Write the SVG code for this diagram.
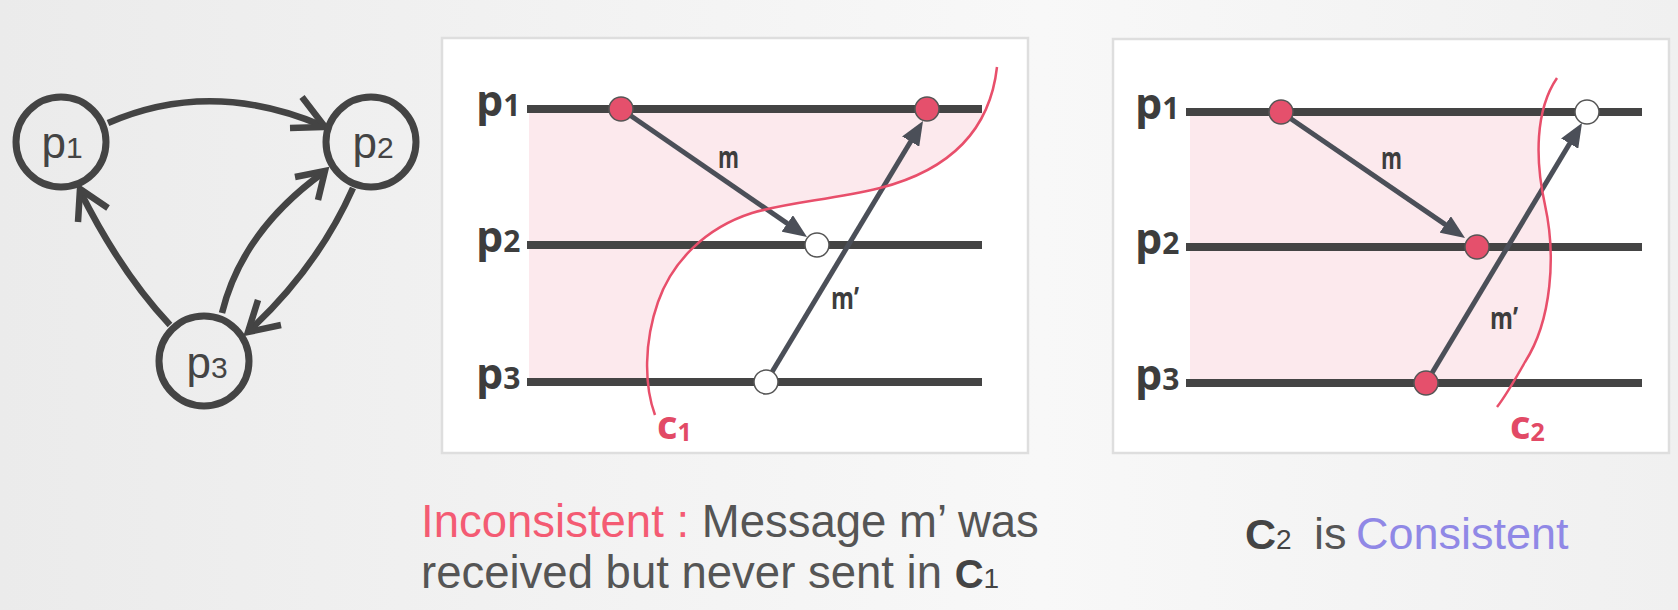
<svg xmlns="http://www.w3.org/2000/svg" width="1678" height="610" viewBox="0 0 1678 610">
  <defs>
    <linearGradient id="bg" x1="0" y1="0" x2="1" y2="0">
      <stop offset="0" stop-color="#ebebeb"/>
      <stop offset="0.62" stop-color="#f8f8f8"/>
      <stop offset="1" stop-color="#f0f0f0"/>
    </linearGradient>
    <marker id="ah" markerUnits="userSpaceOnUse" markerWidth="24" markerHeight="20" refX="10" refY="10" orient="auto">
      <path d="M0,0 L24,10 L0,20 Z" fill="#4b4f58"/>
    </marker>
    <clipPath id="clip1">
      <path d="M997,67 C990,130 950,170 880,188 C830,200 790,202 752,213 C705,228 672,262 658,302 C644,342 644,385 655,415 L655,460 L440,460 L440,40 L997,40 Z"/>
    </clipPath>
    <clipPath id="clip2">
      <path d="M1557,78 C1535,110 1535,160 1545,205 C1556,255 1552,320 1525,362 C1512,385 1504,398 1497,407 L1497,460 L1100,460 L1100,40 L1557,40 Z"/>
    </clipPath>
  </defs>
  <style>
    .node circle { fill: none; stroke: #444; stroke-width: 7; }
    .nlabel { font-family: "Liberation Sans", Arial, sans-serif; fill: #444; }
    .edge { fill: none; stroke: #444; stroke-width: 6.5; }
    .chev { fill: none; stroke: #444; stroke-width: 6.5; stroke-linejoin: miter; }
    .panel { fill: #ffffff; stroke: #dedede; stroke-width: 2.5; }
    .shade { fill: #fce9ed; }
    .tl { stroke: #444; stroke-width: 8; }
    .msg { stroke: #4b4f58; stroke-width: 5; marker-end: url(#ah); }
    .cut { fill: none; stroke: #e84f6b; stroke-width: 2.5; }
    .ev-r { fill: #e5506c; stroke: #555; stroke-width: 1.5; }
    .ev-w { fill: #ffffff; stroke: #555; stroke-width: 1.5; }
    .plabel { font-family: "Open Sans", "DejaVu Sans", sans-serif; font-weight: 700; fill: #3d3d3d; }
    .clabel { font-family: "Open Sans", "DejaVu Sans", sans-serif; font-weight: 700; fill: #e24a66; }
    .cap { font-family: "Liberation Sans", Arial, sans-serif; fill: #555; }
  </style>

  <rect x="0" y="0" width="1678" height="610" fill="url(#bg)"/>

  <!-- Left process graph -->
  <g id="edges">
    <path class="edge" d="M108,123 Q211,78 323,126"/>
    <path class="chev" d="M302,97 L325,127 L290,128"/>
    <path class="edge" d="M170,325 Q121,273 80,191"/>
    <path class="chev" d="M78,222 L80,189 L108,208"/>
    <path class="edge" d="M222,313 Q242,231 324,172"/>
    <path class="chev" d="M295,177 L325,171 L318,200"/>
    <path class="edge" d="M353,188 Q318,267 249,331"/>
    <path class="chev" d="M258,300 L248,332 L281,325"/>
  </g>
  <g id="node-p1" class="node">
    <circle cx="61" cy="142" r="45"/>
    <text class="nlabel" x="62" y="158" text-anchor="middle"><tspan font-size="44">p</tspan><tspan font-size="30">1</tspan></text>
  </g>
  <g id="node-p2" class="node">
    <circle cx="371" cy="142" r="45"/>
    <text class="nlabel" x="373" y="158" text-anchor="middle"><tspan font-size="44">p</tspan><tspan font-size="30">2</tspan></text>
  </g>
  <g id="node-p3" class="node">
    <circle cx="204" cy="361" r="45"/>
    <text class="nlabel" x="207" y="378" text-anchor="middle"><tspan font-size="44">p</tspan><tspan font-size="30">3</tspan></text>
  </g>

  <!-- Panel 1: inconsistent cut C1 -->
  <g id="panel1">
    <rect class="panel" x="442" y="38" width="586" height="415"/>
    <rect class="shade" x="529" y="109" width="453" height="273" clip-path="url(#clip1)"/>
    <line class="tl" x1="527" y1="109" x2="982" y2="109"/>
    <line class="tl" x1="527" y1="245" x2="982" y2="245"/>
    <line class="tl" x1="527" y1="382" x2="982" y2="382"/>
    <text class="plabel" x="476" y="116"><tspan font-size="43">p</tspan><tspan font-size="30">1</tspan></text>
    <text class="plabel" x="476" y="252"><tspan font-size="43">p</tspan><tspan font-size="30">2</tspan></text>
    <text class="plabel" x="476" y="389"><tspan font-size="43">p</tspan><tspan font-size="30">3</tspan></text>
    <g id="connectors1">
      <line class="msg" x1="621" y1="109" x2="795.5" y2="229.1"/>
      <line class="msg" x1="766" y1="382" x2="915.8" y2="133"/>
    </g>
    <text class="plabel" x="718" y="168" font-size="31" textLength="21" lengthAdjust="spacingAndGlyphs">m</text>
    <text class="plabel" x="831" y="309" font-size="31" textLength="28" lengthAdjust="spacingAndGlyphs">m’</text>
    <path class="cut" d="M997,67 C990,130 950,170 880,188 C830,200 790,202 752,213 C705,228 672,262 658,302 C644,342 644,385 655,415"/>
    <circle class="ev-r" cx="621" cy="109" r="12"/>
    <circle class="ev-r" cx="927" cy="109" r="12"/>
    <circle class="ev-w" cx="817" cy="245" r="12"/>
    <circle class="ev-w" cx="766" cy="382" r="12"/>
    <text class="clabel" x="657" y="439"><tspan font-size="40">c</tspan><tspan font-size="25" dy="2">1</tspan></text>
  </g>

  <!-- Panel 2: consistent cut C2 -->
  <g id="panel2">
    <rect class="panel" x="1113" y="39" width="556" height="414"/>
    <rect class="shade" x="1190" y="112" width="452" height="271" clip-path="url(#clip2)"/>
    <line class="tl" x1="1186" y1="112" x2="1642" y2="112"/>
    <line class="tl" x1="1186" y1="247" x2="1642" y2="247"/>
    <line class="tl" x1="1186" y1="383" x2="1642" y2="383"/>
    <text class="plabel" x="1135" y="119"><tspan font-size="43">p</tspan><tspan font-size="30">1</tspan></text>
    <text class="plabel" x="1135" y="254"><tspan font-size="43">p</tspan><tspan font-size="30">2</tspan></text>
    <text class="plabel" x="1135" y="390"><tspan font-size="43">p</tspan><tspan font-size="30">3</tspan></text>
    <g id="connectors2">
      <line class="msg" x1="1281" y1="112" x2="1453.5" y2="230.1"/>
      <line class="msg" x1="1426" y1="383" x2="1574.8" y2="135"/>
    </g>
    <text class="plabel" x="1381" y="169" font-size="31" textLength="21" lengthAdjust="spacingAndGlyphs">m</text>
    <text class="plabel" x="1490" y="329" font-size="31" textLength="28" lengthAdjust="spacingAndGlyphs">m’</text>
    <path class="cut" d="M1557,78 C1535,110 1535,160 1545,205 C1556,255 1552,320 1525,362 C1512,385 1504,398 1497,407"/>
    <circle class="ev-r" cx="1281" cy="112" r="12"/>
    <circle class="ev-w" cx="1587" cy="112" r="12"/>
    <circle class="ev-r" cx="1477" cy="247" r="12"/>
    <circle class="ev-r" cx="1426" cy="383" r="12"/>
    <text class="clabel" x="1510" y="439"><tspan font-size="40">c</tspan><tspan font-size="25" dy="2">2</tspan></text>
  </g>

  <!-- Captions -->
  <g id="caption1">
    <text class="cap" x="421" y="537" font-size="45.5"><tspan fill="#f45b73">Inconsistent : </tspan>Message m’ was</text>
    <text class="cap" x="421" y="588" font-size="45.5">received but never sent in <tspan font-weight="700" font-size="40" fill="#444">C</tspan><tspan font-size="28" fill="#444">1</tspan></text>
  </g>
  <g id="caption2">
    <text class="cap" x="1245" y="549"><tspan font-weight="700" font-size="43" fill="#444">C</tspan><tspan font-size="28" fill="#444">2</tspan><tspan x="1314" font-size="45">is</tspan><tspan x="1356" font-size="45" fill="#9088e6">Consistent</tspan></text>
  </g>
</svg>
